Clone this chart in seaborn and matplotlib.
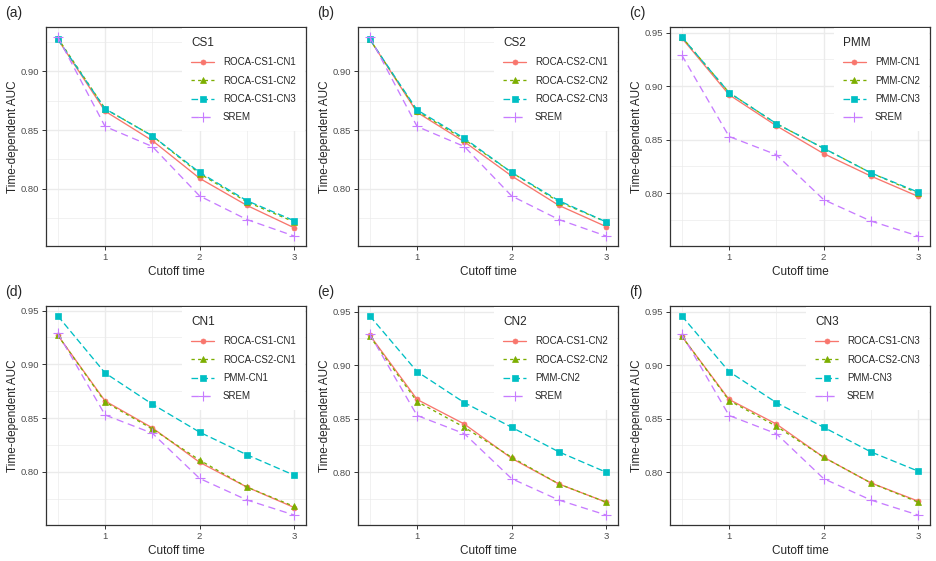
import numpy as np
import pandas as pd
import seaborn as sns
import matplotlib
matplotlib.use("Agg")
import matplotlib.pyplot as plt
from matplotlib.ticker import MultipleLocator, FormatStrFormatter

# # DATA

cutoff = [0.5, 1.0, 1.5, 2.0, 2.5, 3.0]

srem = [0.929, 0.853, 0.836, 0.794, 0.774, 0.760]
cs1_cn1 = [0.927, 0.866, 0.841, 0.809, 0.786, 0.767]
cs1_cn2 = [0.928, 0.868, 0.845, 0.813, 0.789, 0.772]
cs1_cn3 = [0.927, 0.868, 0.845, 0.814, 0.790, 0.773]
cs2_cn1 = [0.927, 0.865, 0.840, 0.811, 0.786, 0.768]
cs2_cn2 = [0.927, 0.866, 0.842, 0.814, 0.789, 0.772]
cs2_cn3 = [0.927, 0.867, 0.843, 0.814, 0.790, 0.772]
pmm_cn1 = [0.945, 0.892, 0.863, 0.837, 0.816, 0.797]
pmm_cn2 = [0.946, 0.894, 0.865, 0.842, 0.819, 0.800]
pmm_cn3 = [0.946, 0.894, 0.865, 0.842, 0.819, 0.801]

tags = ["(a)", "(b)", "(c)", "(d)", "(e)", "(f)"]
legend_titles = ["CS1", "CS2", "PMM", "CN1", "CN2", "CN3"]
series_names = [
    ["ROCA-CS1-CN1", "ROCA-CS1-CN2", "ROCA-CS1-CN3", "SREM"],
    ["ROCA-CS2-CN1", "ROCA-CS2-CN2", "ROCA-CS2-CN3", "SREM"],
    ["PMM-CN1", "PMM-CN2", "PMM-CN3", "SREM"],
    ["ROCA-CS1-CN1", "ROCA-CS2-CN1", "PMM-CN1", "SREM"],
    ["ROCA-CS1-CN2", "ROCA-CS2-CN2", "PMM-CN2", "SREM"],
    ["ROCA-CS1-CN3", "ROCA-CS2-CN3", "PMM-CN3", "SREM"],
]
series_values = [
    [cs1_cn1, cs1_cn2, cs1_cn3, srem],
    [cs2_cn1, cs2_cn2, cs2_cn3, srem],
    [pmm_cn1, pmm_cn2, pmm_cn3, srem],
    [cs1_cn1, cs2_cn1, pmm_cn1, srem],
    [cs1_cn2, cs2_cn2, pmm_cn2, srem],
    [cs1_cn3, cs2_cn3, pmm_cn3, srem],
]

# # STYLE (ggplot-like)

colors = ["#F8766D", "#7CAE00", "#00BFC4", "#C77CFF"]
dash_list = ["", (2.5, 2.5), (5, 2.5), (5.5, 3.5)]
# seaborn won't mix filled and line markers, so "P" is swapped for "+" afterwards
marker_list = ["o", "^", "s", "P"]
final_markers = ["o", "^", "s", "+"]
marker_sizes = [3.6, 4.6, 5.0, 7.0]

sns.set_theme(style="white")
plt.rcParams["font.family"] = ["Liberation Sans", "DejaVu Sans"]

fig = plt.figure(figsize=(9.37, 5.61), dpi=100)
W, H = 937, 561

lefts = [46, 358, 670]
tops = [27, 306]
aw, ah = 260, 219

for i in range(6):
    r, c = divmod(i, 3)
    ax = fig.add_axes([lefts[c] / W, 1 - (tops[r] + ah) / H, aw / W, ah / H])

    names = series_names[i]
    df = pd.DataFrame({
        "time": cutoff * 4,
        "auc": sum(series_values[i], []),
        "model": [n for n in names for _ in cutoff],
    })

    sns.lineplot(
        data=df, x="time", y="auc", hue="model", style="model",
        hue_order=names, style_order=names,
        palette=dict(zip(names, colors)),
        dashes=dict(zip(names, dash_list)),
        markers=dict(zip(names, marker_list)),
        linewidth=0.95, legend=False, ax=ax,
    )

    lines = ax.lines[:4]
    for ln, col, mk, ms in zip(lines, colors, final_markers, marker_sizes):
        ln.set_marker(mk)
        ln.set_markersize(ms)
        ln.set_markeredgecolor(col)
        ln.set_markerfacecolor(col)
        ln.set_markeredgewidth(0.8 if mk == "+" else 0.5)

    ax.margins(x=0.05, y=0.05)
    ax.xaxis.set_major_locator(MultipleLocator(1))
    ax.xaxis.set_minor_locator(MultipleLocator(0.5))
    ax.yaxis.set_major_locator(MultipleLocator(0.05))
    ax.yaxis.set_minor_locator(MultipleLocator(0.025))
    ax.xaxis.set_major_formatter(FormatStrFormatter("%g"))
    ax.yaxis.set_major_formatter(FormatStrFormatter("%.2f"))

    ax.set_axisbelow(True)
    ax.grid(which="major", color="#EBEBEB", linewidth=1.0)
    ax.grid(which="minor", color="#EBEBEB", linewidth=0.5)
    for sp in ax.spines.values():
        sp.set_color("#333333")
        sp.set_linewidth(0.9)

    ax.tick_params(which="major", length=3, width=0.7, color="#333333",
                   labelsize=6.8, labelcolor="#4D4D4D", pad=2,
                   bottom=True, left=True)
    ax.tick_params(which="minor", length=0)

    ax.set_xlabel("Cutoff time", fontsize=8.5, labelpad=3)
    ax.set_ylabel("Time-dependent AUC", fontsize=8.5, labelpad=1)

    leg = ax.legend(
        lines, names, title=legend_titles[i], loc="upper right",
        bbox_to_anchor=(1.0, 1.0), frameon=True, fancybox=False,
        framealpha=1, facecolor="white", edgecolor="none",
        fontsize=7, title_fontsize=8.5, alignment="left",
        handlelength=2.4, handletextpad=0.9, labelspacing=0.85,
        borderpad=0.9, borderaxespad=0.15,
    )

    fig.text((lefts[c] - 41) / W, 1 - (tops[r] - 14) / H, tags[i],
             fontsize=10, ha="left", va="center")

fig.savefig("out.png", dpi=100)
plt.close(fig)
